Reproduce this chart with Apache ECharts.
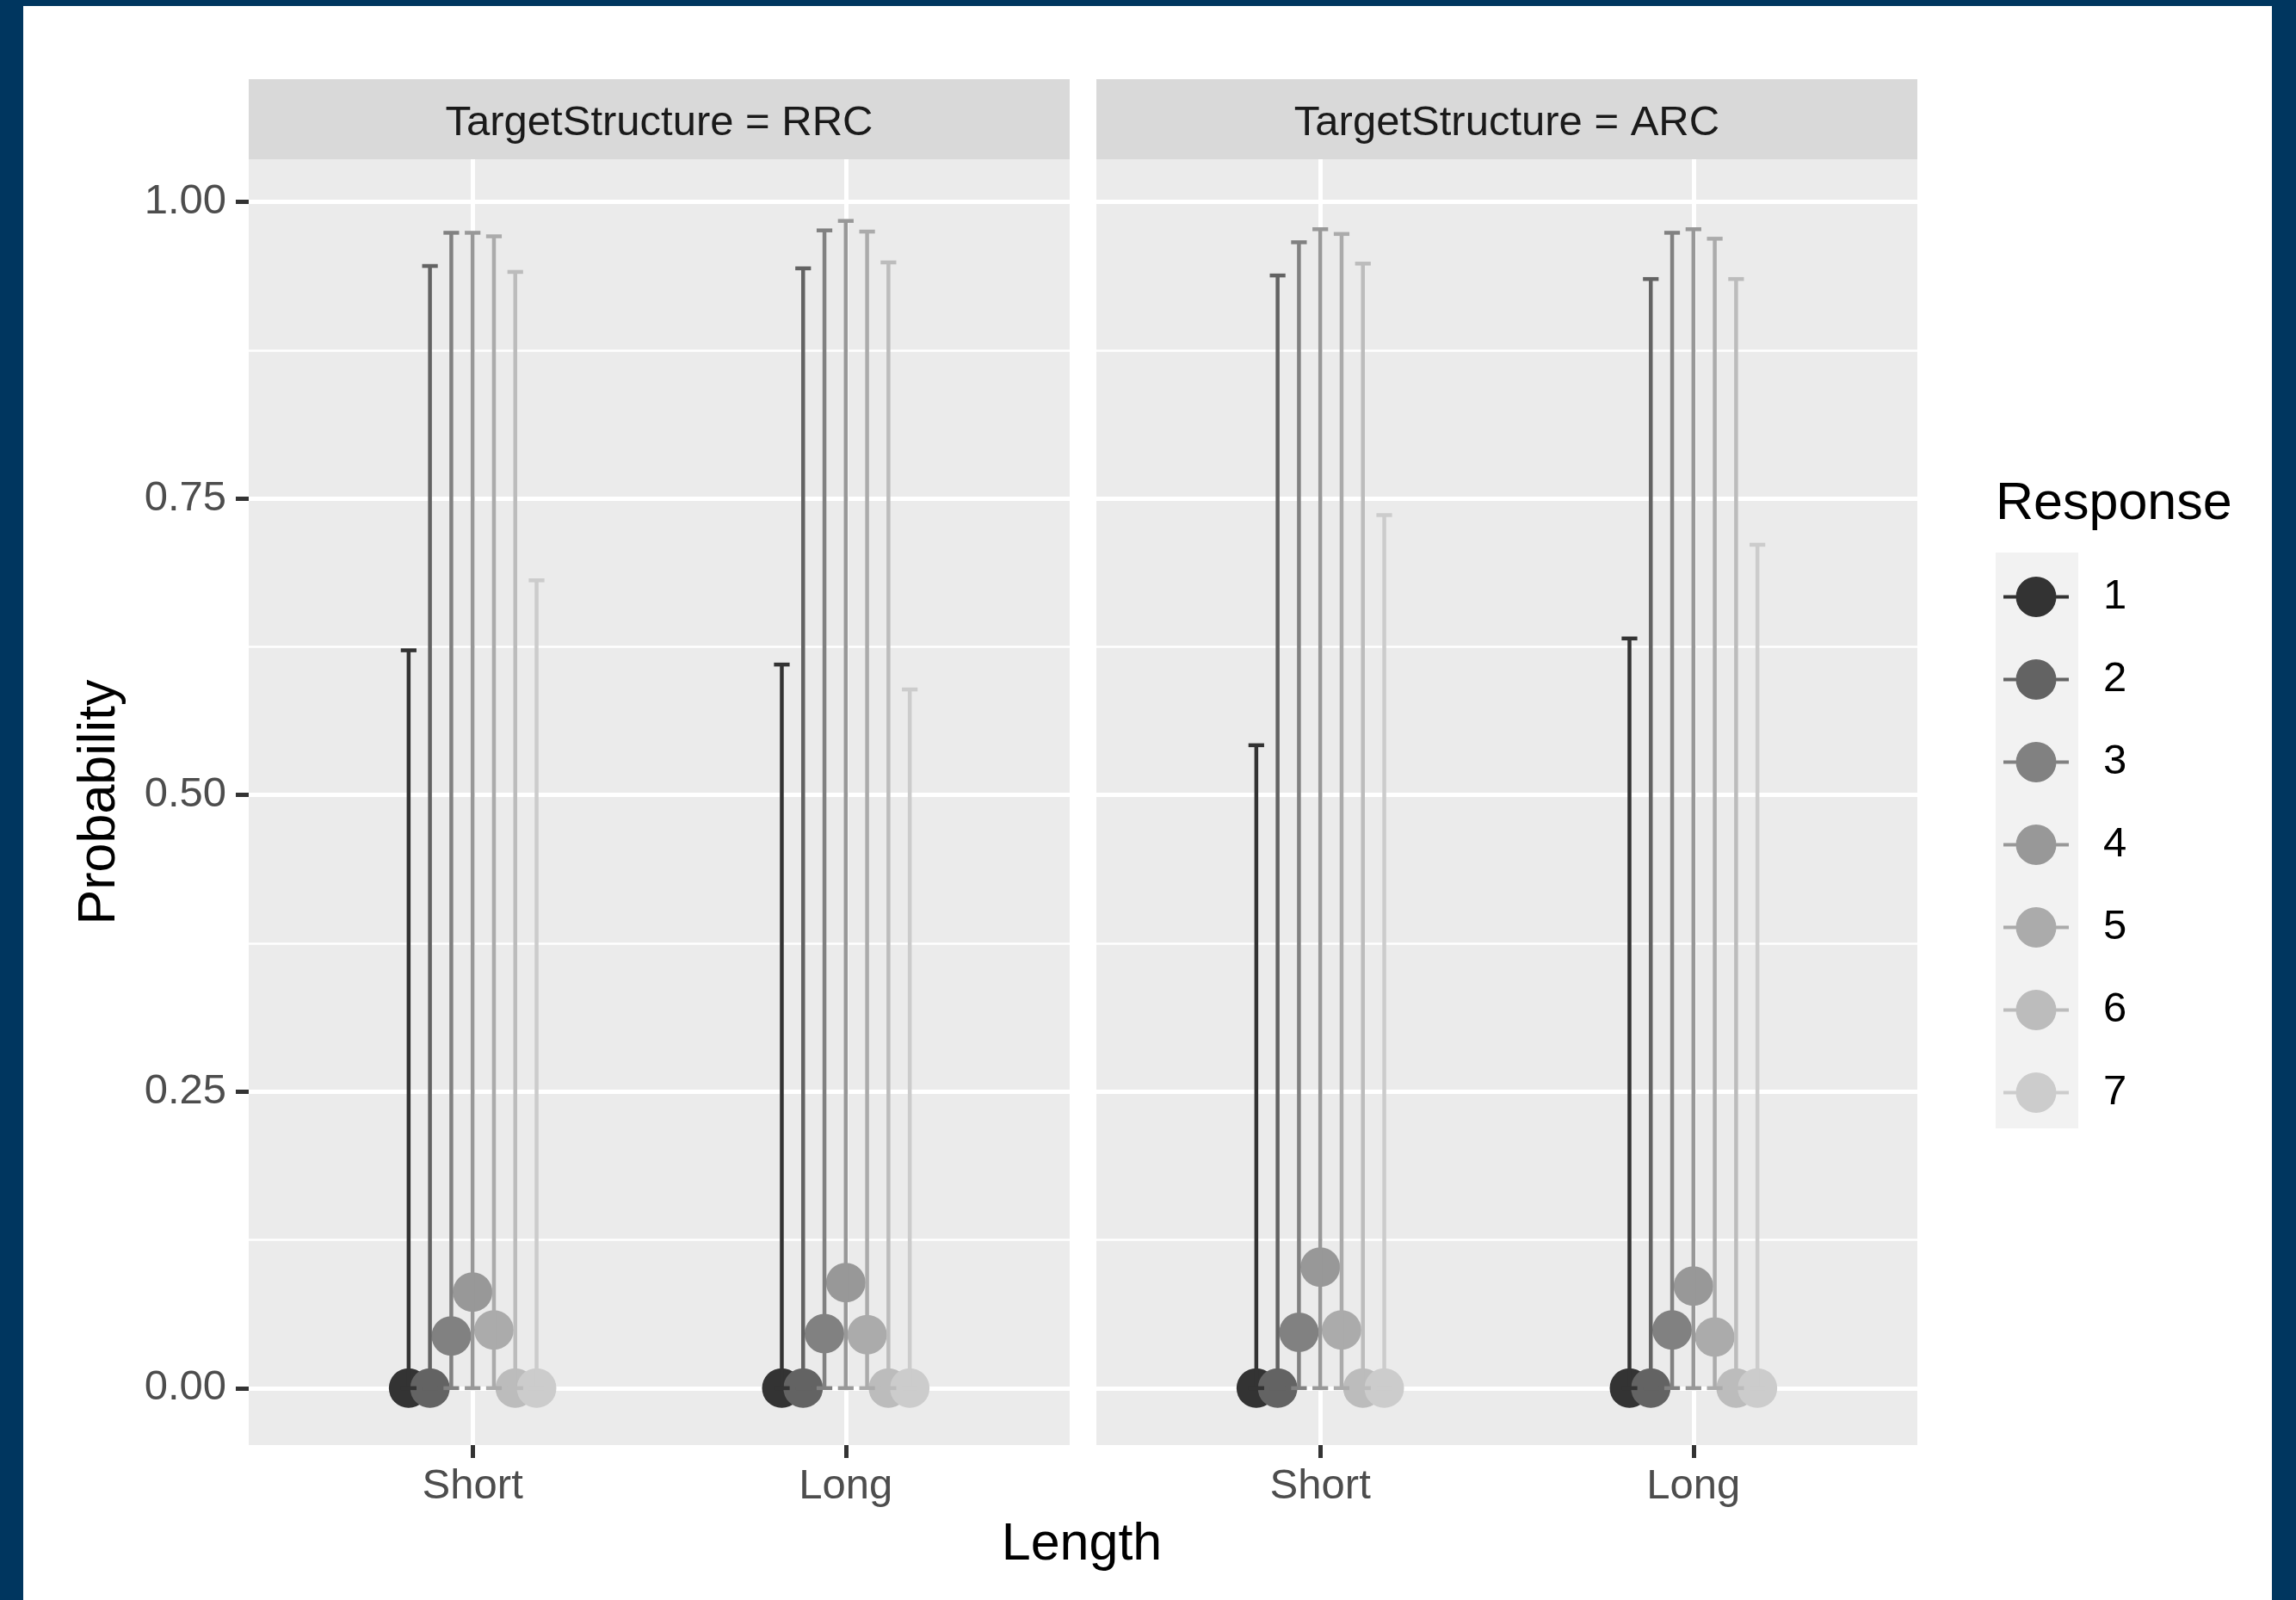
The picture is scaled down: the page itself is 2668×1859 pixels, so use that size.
<!DOCTYPE html>
<html>
<head>
<meta charset="utf-8">
<script src="https://cdn.jsdelivr.net/npm/echarts@6/dist/echarts.min.js"></script>
<style>
  html, body { margin: 0; padding: 0; background: #ffffff; }
  #chart { width: 2668px; height: 1859px; }
</style>
</head>
<body>
<div id="chart"></div>
<script>
// ---- data ----
const lengthLevels = ['Short', 'Long'];
const responseLevels = ['1', '2', '3', '4', '5', '6', '7'];
const panelLabels = ['TargetStructure = RRC', 'TargetStructure = ARC'];
const yTicks = [0, 0.25, 0.5, 0.75, 1];
const yMinorTicks = [0.125, 0.375, 0.625, 0.875];

// per response (rows 1..7): [Short, Long]
const rrcEstimate = [[0, 0], [0, 0], [0.044, 0.046], [0.081, 0.089], [0.049, 0.045], [0, 0], [0, 0]];
const rrcLower    = [[0, 0], [0, 0], [0, 0], [0, 0], [0, 0], [0, 0], [0, 0]];
const rrcUpper    = [[0.622, 0.610], [0.946, 0.944], [0.974, 0.976], [0.974, 0.984], [0.971, 0.975], [0.941, 0.949], [0.681, 0.589]];

const arcEstimate = [[0, 0], [0, 0], [0.047, 0.049], [0.102, 0.086], [0.049, 0.043], [0, 0], [0, 0]];
const arcLower    = [[0, 0], [0, 0], [0, 0], [0, 0], [0, 0], [0, 0], [0, 0]];
const arcUpper    = [[0.542, 0.632], [0.938, 0.935], [0.966, 0.974], [0.977, 0.977], [0.973, 0.969], [0.948, 0.935], [0.736, 0.711]];

// ---- styling ----
const responseColors = ['#333333', '#636363', '#818181', '#989898', '#ABABAB', '#BCBCBC', '#CCCCCC'];
const FONT = '"Liberation Sans", Arial, Helvetica, sans-serif';
const DODGE_STEP = 0.4 / 7;     // dodge width 0.4 split across 7 responses
const CAP_HALF = 0.021;         // half width of the error bar caps, x units
const X_MIN = 0.4, X_MAX = 2.6;
const Y_MIN = -0.048, Y_MAX = 1.036;

const panels = [
  { est: rrcEstimate, lo: rrcLower, hi: rrcUpper, left: 289 },
  { est: arcEstimate, lo: arcLower, hi: arcUpper, left: 1274 }
];
const PANEL_TOP = 185, PANEL_W = 954, PANEL_H = 1494, STRIP_H = 93;

const grids = [], xAxes = [], yAxes = [], scatterSeries = [], barSeries = [];

panels.forEach((p, pi) => {
  grids.push({
    left: p.left, top: PANEL_TOP, width: PANEL_W, height: PANEL_H,
    show: true, backgroundColor: '#EBEBEB', borderWidth: 0, containLabel: false
  });
  xAxes.push({
    type: 'value', gridIndex: pi, min: X_MIN, max: X_MAX, position: 'bottom',
    axisLine: { show: false, onZero: false },
    axisTick: { show: true, customValues: [1, 2], length: 15, lineStyle: { color: '#333333', width: 5 } },
    axisLabel: {
      show: true, customValues: [1, 2], margin: 24,
      formatter: v => lengthLevels[Math.round(v) - 1] || '',
      color: '#4D4D4D', fontSize: 49, fontFamily: FONT
    },
    splitLine: { show: true, lineStyle: { color: '#FFFFFF', width: 5 } }
  });
  // major y axis
  yAxes.push({
    type: 'value', gridIndex: pi, min: Y_MIN, max: Y_MAX, position: 'left',
    axisLine: { show: false, onZero: false },
    axisTick: { show: pi === 0, customValues: yTicks, length: 15, lineStyle: { color: '#333333', width: 5 } },
    axisLabel: {
      show: pi === 0, customValues: yTicks, margin: 26,
      formatter: v => v.toFixed(2),
      color: '#4D4D4D', fontSize: 49, fontFamily: FONT
    },
    splitLine: { show: true, lineStyle: { color: '#FFFFFF', width: 5 } },
    z: 1
  });
  // minor y grid
  yAxes.push({
    type: 'value', gridIndex: pi, min: Y_MIN, max: Y_MAX, position: 'left',
    axisLine: { show: false, onZero: false },
    axisTick: { show: false, customValues: yMinorTicks },
    axisLabel: { show: false, customValues: yMinorTicks },
    splitLine: { show: true, lineStyle: { color: '#FFFFFF', width: 2.5 } },
    z: 0
  });

  responseLevels.forEach((name, r) => {
    const offset = (r - 3) * DODGE_STEP;
    scatterSeries.push({
      type: 'scatter', name: name, xAxisIndex: pi, yAxisIndex: pi * 2,
      symbol: 'circle', symbolSize: 46, silent: true, z: 3,
      itemStyle: { color: responseColors[r], opacity: 1, borderWidth: 0 },
      data: lengthLevels.map((_, i) => [i + 1 + offset, p.est[r][i]])
    });
    barSeries.push({
      type: 'custom', name: name, xAxisIndex: pi, yAxisIndex: pi * 2,
      silent: true, z: 4,
      itemStyle: { color: responseColors[r] },
      encode: { x: 0, y: [1, 2] },
      data: lengthLevels.map((_, i) => [i + 1 + offset, p.lo[r][i], p.hi[r][i]]),
      renderItem: (params, api) => {
        const x = api.value(0), lo = api.value(1), hi = api.value(2);
        const top = api.coord([x, hi]);
        const bot = api.coord([x, lo]);
        const xl = api.coord([x - CAP_HALF, hi])[0];
        const xr = api.coord([x + CAP_HALF, hi])[0];
        const style = { stroke: responseColors[r], lineWidth: 4.5, fill: null, lineCap: 'butt' };
        return {
          type: 'group',
          children: [
            { type: 'line', shape: { x1: top[0], y1: top[1], x2: bot[0], y2: bot[1] }, style },
            { type: 'line', shape: { x1: xl, y1: top[1], x2: xr, y2: top[1] }, style },
            { type: 'line', shape: { x1: xl, y1: bot[1], x2: xr, y2: bot[1] }, style }
          ]
        };
      }
    });
  });
});

// legend key: a point with a short horizontal bar through it
const KEY_ICON = 'path://M0,21.5 L14.6,21.5 L14.6,25.5 L0,25.5 Z ' +
  'M61.4,21.5 L76,21.5 L76,25.5 L61.4,25.5 Z ' +
  'M14.5,23.5 A23.5,23.5 0 1,1 61.5,23.5 A23.5,23.5 0 1,1 14.5,23.5 Z';

const graphics = [
  // frame
  { type: 'rect', shape: { x: 0, y: 0, width: 27, height: 1859 }, style: { fill: '#00365F' } },
  { type: 'rect', shape: { x: 0, y: 0, width: 2668, height: 7 }, style: { fill: '#00365F' } },
  { type: 'rect', shape: { x: 2640, y: 0, width: 28, height: 1859 }, style: { fill: '#00365F' } },
  // legend key background
  { type: 'rect', shape: { x: 2319, y: 642, width: 96, height: 669 }, style: { fill: '#F2F2F2' }, z: 0 },
  // legend title
  { type: 'text', x: 2319, y: 586, style: { text: 'Response', fontSize: 61, fontFamily: FONT, fill: '#000000', verticalAlign: 'middle', align: 'left' } },
  // axis titles
  { type: 'text', x: 1257, y: 1795, style: { text: 'Length', fontSize: 61, fontFamily: FONT, fill: '#000000', align: 'center', verticalAlign: 'middle' } },
  { type: 'text', x: 116, y: 932, rotation: Math.PI / 2, style: { text: 'Probability', fontSize: 61, fontFamily: FONT, fill: '#000000', align: 'center', verticalAlign: 'middle' } }
];
panels.forEach((p, pi) => {
  graphics.push({ type: 'rect', shape: { x: p.left, y: PANEL_TOP - STRIP_H, width: PANEL_W, height: STRIP_H }, style: { fill: '#D9D9D9' } });
  graphics.push({ type: 'text', x: p.left + PANEL_W / 2, y: PANEL_TOP - STRIP_H / 2 + 5, style: { text: panelLabels[pi], fontSize: 49, fontFamily: FONT, fill: '#1A1A1A', align: 'center', verticalAlign: 'middle' } });
});

const chart = echarts.init(document.getElementById('chart'), null, { renderer: 'canvas' });
chart.setOption({
  animation: false,
  backgroundColor: '#FFFFFF',
  grid: grids,
  xAxis: xAxes,
  yAxis: yAxes,
  legend: {
    orient: 'vertical', left: 2323, top: 664,
    itemWidth: 76, itemHeight: 47, itemGap: 47,
    selectedMode: false,
    data: responseLevels.map(n => ({ name: n, icon: KEY_ICON })),
    textStyle: { fontSize: 49, fontFamily: FONT, color: '#000000', lineHeight: 47, padding: [0, 0, 0, 35] }
  },
  graphic: { elements: graphics },
  series: scatterSeries.concat(barSeries)
});
</script>
</body>
</html>
